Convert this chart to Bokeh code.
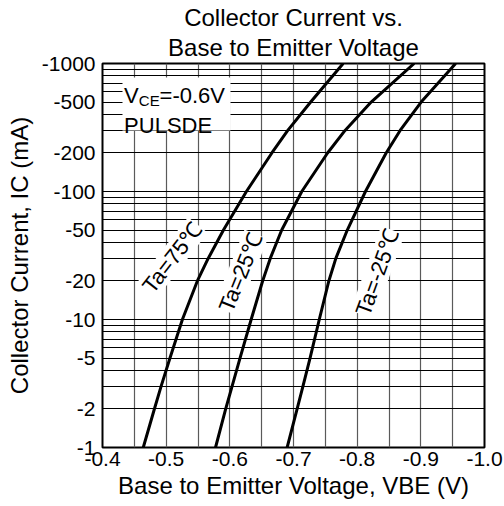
from bokeh.plotting import figure
from bokeh.models import Range1d, FixedTicker, NumeralTickFormatter, Label, BoxAnnotation, ColumnDataSource, Title
from bokeh.embed import file_html
from bokeh.resources import INLINE

# ---- data ----
ic_mA = [-1, -2, -3, -5, -10, -20, -30, -50, -100, -200, -300, -500, -1000]
vbe_ta75 = [-0.464, -0.4815, -0.492, -0.506, -0.5255, -0.549, -0.566, -0.590, -0.626, -0.666, -0.691, -0.727, -0.778]
vbe_ta25 = [-0.5775, -0.5935, -0.6035, -0.616, -0.6335, -0.6515, -0.6635, -0.6815, -0.713, -0.7535, -0.781, -0.822, -0.8895]
vbe_tam25 = [-0.690, -0.7057, -0.7148, -0.726, -0.7405, -0.7555, -0.7665, -0.7845, -0.813, -0.8455, -0.8675, -0.9005, -0.9547]

x_ticks = [-0.4, -0.5, -0.6, -0.7, -0.8, -0.9, -1.0]
y_ticks = [1, 2, 5, 10, 20, 50, 100, 200, 500, 1000]
y_tick_labels = ["-1", "-2", "-5", "-10", "-20", "-50", "-100", "-200", "-500", "-1000"]
curve_names = ["Ta=75℃", "Ta=25℃", "Ta=-25℃"]

title_lines = ["Collector Current vs.", "Base to Emitter Voltage"]
x_label = "Base to Emitter Voltage, VBE (V)"
y_label = "Collector Current, IC (mA)"

FONT = "Liberation Sans"

p = figure(width=504, height=506, title=None,
           x_range=Range1d(-0.4, -1.0), y_range=Range1d(1, 1000),
           y_axis_type="log", output_backend="svg", toolbar_location=None,
           min_border_left=102, min_border_right=20, min_border_top=63, min_border_bottom=59)

p.background_fill_color = "white"
p.border_fill_color = "white"
p.outline_line_color = "black"
p.outline_line_width = 2

# title: two centred lines (first added sits nearest the frame)
for text, so in ((title_lines[1], 6), (title_lines[0], -4)):
    p.add_layout(Title(text=text, align="center", standoff=so, text_font=FONT,
                       text_font_size="24px", text_font_style="normal",
                       text_color="black"), "above")

# grids
xgrid_vals = [round(-0.4 - 0.05 * i, 2) for i in range(13)]
ygrid_vals = [k * 10 ** d for d in range(3) for k in range(1, 10)] + [1000]
p.xgrid.ticker = FixedTicker(ticks=xgrid_vals)
p.ygrid.ticker = FixedTicker(ticks=ygrid_vals)
p.xgrid.grid_line_color = "#5a5a5a"
p.xgrid.grid_line_width = 1.2
p.ygrid.grid_line_color = "black"
p.ygrid.grid_line_width = 1

# axes
p.xaxis.ticker = FixedTicker(ticks=x_ticks)
p.xaxis.formatter = NumeralTickFormatter(format="0.0")
p.yaxis.ticker = FixedTicker(ticks=y_ticks)
p.yaxis.major_label_overrides = {t: s for t, s in zip(y_ticks, y_tick_labels)}
p.xaxis.axis_label = x_label
p.yaxis.axis_label = y_label
for ax in (p.xaxis[0], p.yaxis[0]):
    ax.major_label_text_font = FONT
    ax.major_label_text_font_size = "21px"
    ax.major_label_text_color = "black"
    ax.axis_label_text_font = FONT
    ax.axis_label_text_font_size = "24px"
    ax.axis_label_text_font_style = "normal"
    ax.axis_label_text_color = "black"
    ax.major_tick_line_color = None
    ax.minor_tick_line_color = None
    ax.major_tick_out = 0
    ax.major_tick_in = 0
    ax.minor_tick_out = 0
    ax.axis_line_color = None
p.xaxis.major_label_standoff = 4
p.yaxis.major_label_standoff = 7
p.xaxis.axis_label_standoff = 3
p.yaxis.axis_label_standoff = 6

# curves
for vals in (vbe_ta75, vbe_ta25, vbe_tam25):
    src = ColumnDataSource(dict(v=vals, i=[-c for c in ic_mA]))
    p.line("v", "i", source=src, line_color="black", line_width=3, line_join="round")

# curve labels
for name, (lx, ly, ang) in zip(curve_names, [(-0.51, 30.5, 52), (-0.617, 23.3, 68), (-0.832, 23.3, 70)]):
    p.add_layout(Label(x=lx, y=ly, text=name, angle=ang, angle_units="deg",
                       text_align="center", text_baseline="middle",
                       text_font=FONT, text_font_size="22px", text_color="black",
                       background_fill_color="white"))

# condition box
p.add_layout(BoxAnnotation(left=20, right=128, bottom=317, top=370,
                           left_units="screen", right_units="screen",
                           bottom_units="screen", top_units="screen",
                           fill_color="white", fill_alpha=1.0, line_color=None))

def scr_label(x, y, text, size):
    p.add_layout(Label(x=x, y=y, x_units="screen", y_units="screen", text=text,
                       text_align="left", text_baseline="alphabetic", text_font=FONT,
                       text_font_size=size, text_color="black"))

scr_label(21.6, 352, "V", "22px")
scr_label(36.3, 347, "CE", "15px")
scr_label(57.1, 352, "=-0.6V", "22px")
scr_label(21.6, 322, "PULSDE", "22px")

open("out.html", "w").write(file_html(p, INLINE))
